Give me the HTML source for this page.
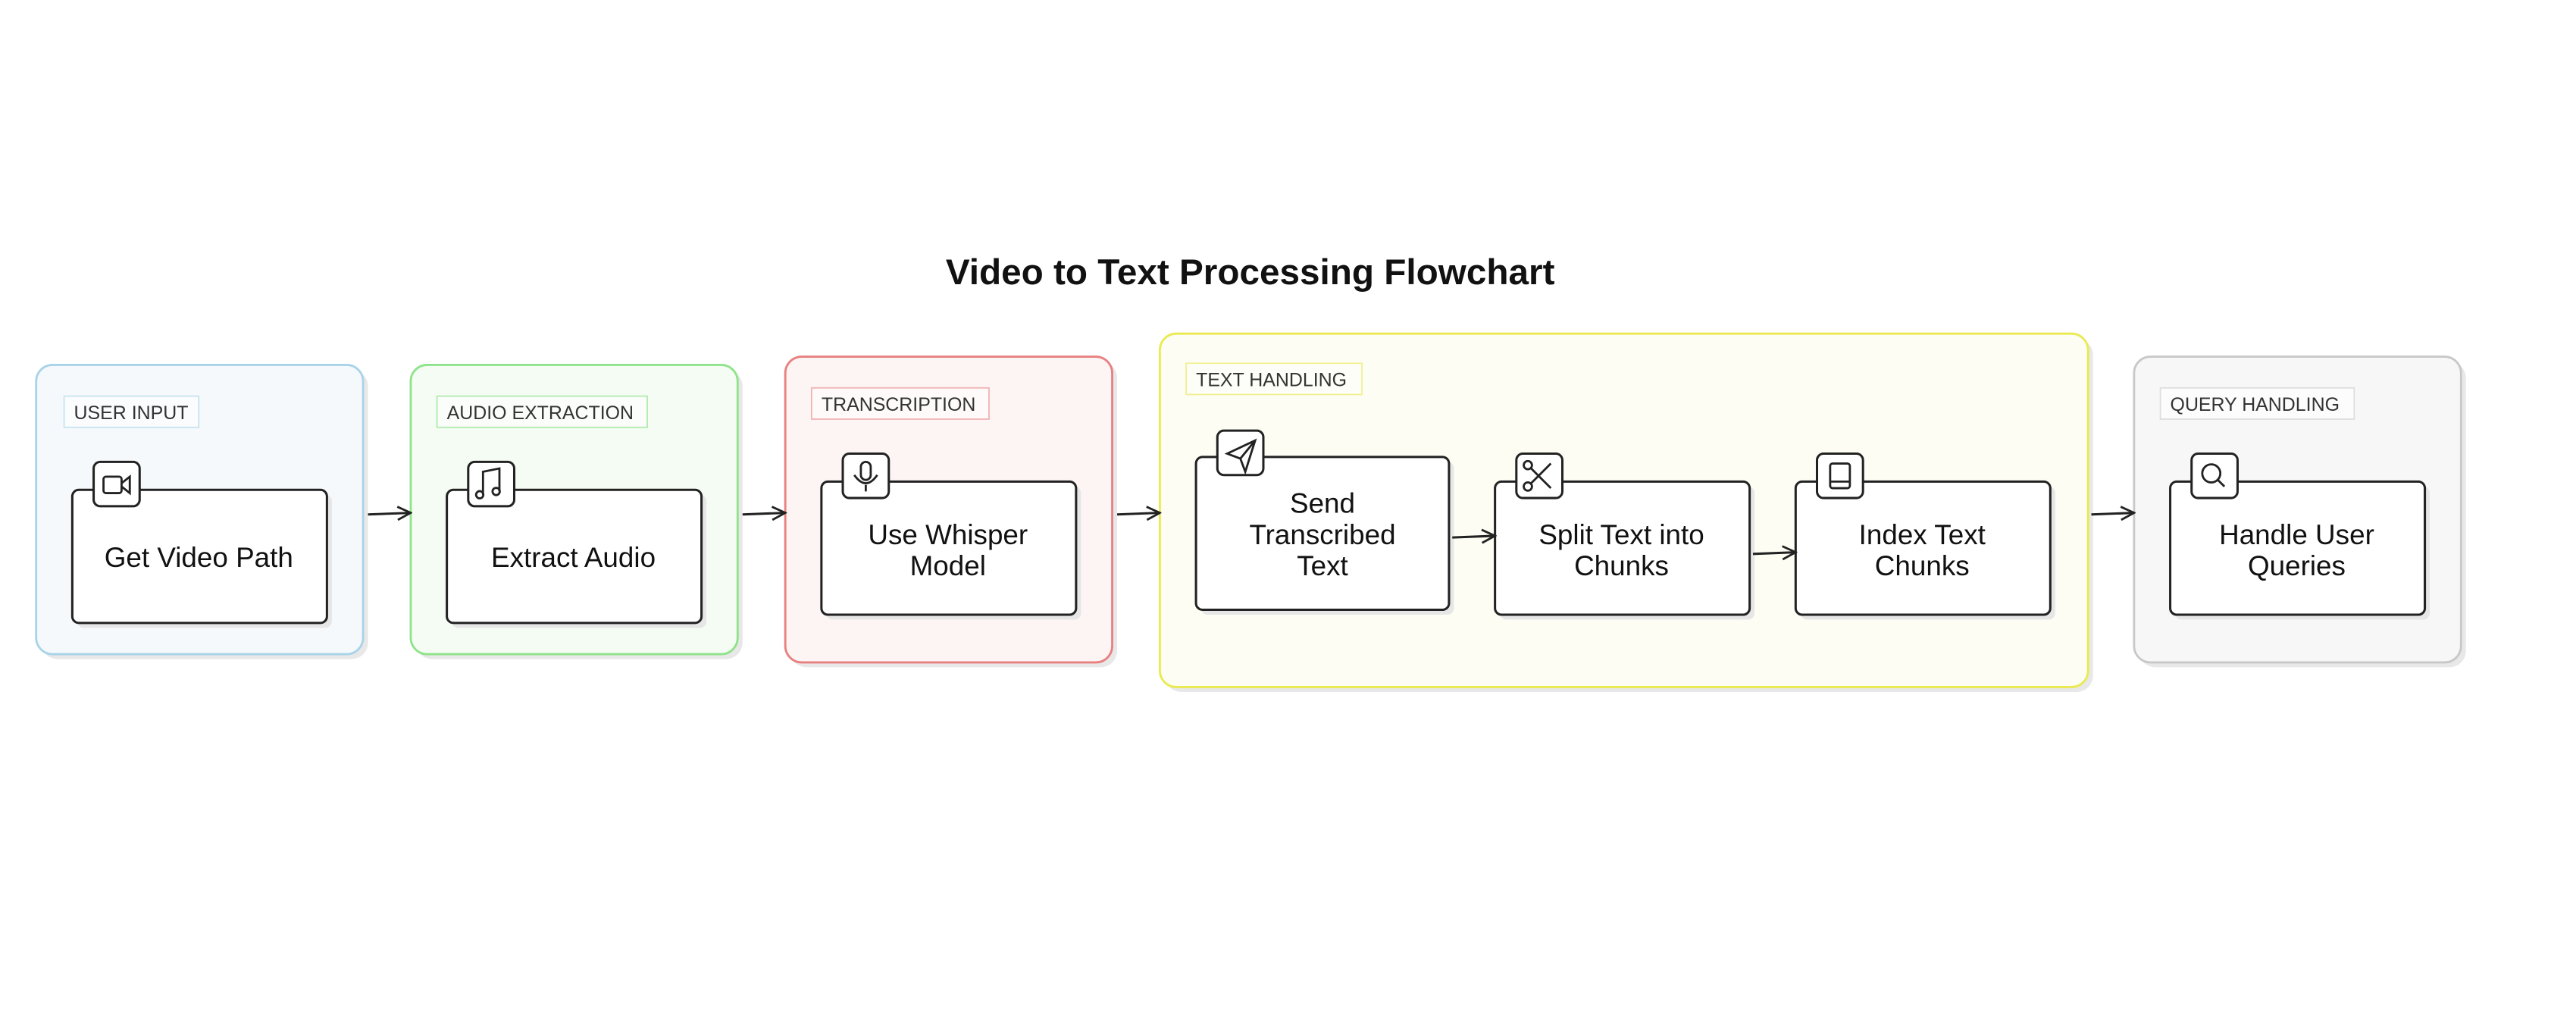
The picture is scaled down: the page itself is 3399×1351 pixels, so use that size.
<!DOCTYPE html>
<html><head><meta charset="utf-8"><style>
html,body{margin:0;padding:0;background:#fff;}
svg{display:block;}
text{font-family:"Liberation Sans",sans-serif;}
</style></head><body>
<svg width="3399" height="1351" viewBox="0 0 1568 623" preserveAspectRatio="none" xmlns="http://www.w3.org/2000/svg">
<defs>
<marker id="ah" markerWidth="10" markerHeight="10" refX="9" refY="5" orient="auto" markerUnits="userSpaceOnUse">
<path d="M1,1 L9,5 L1,9" fill="none" stroke="#222" stroke-width="1.3"/>
</marker>
</defs>
<rect width="1568" height="623" fill="#fff"/>
<text x="761" y="173" text-anchor="middle" font-size="22" font-weight="bold" fill="#111">Video to Text Processing Flowchart</text>

<!-- containers -->
<g stroke-width="1.3">
<rect x="25" y="225" width="199" height="176" rx="10" fill="#e8e8e8" stroke="none"/>
<rect x="22" y="222" width="199" height="176" rx="10" fill="#f5f9fc" stroke="#a9d3e8"/>
<rect x="253" y="225" width="199" height="176" rx="10" fill="#e8e8e8" stroke="none"/>
<rect x="250" y="222" width="199" height="176" rx="10" fill="#f4fcf3" stroke="#8fe38a"/>
<rect x="481" y="220" width="199" height="186" rx="10" fill="#e8e8e8" stroke="none"/>
<rect x="478" y="217" width="199" height="186" rx="10" fill="#fdf4f4" stroke="#e88080"/>
<rect x="709" y="206" width="565" height="215" rx="10" fill="#e8e8e8" stroke="none"/>
<rect x="706" y="203" width="565" height="215" rx="10" fill="#fdfdf4" stroke="#eaea50"/>
<rect x="1302" y="220" width="199" height="186" rx="10" fill="#e8e8e8" stroke="none"/>
<rect x="1299" y="217" width="199" height="186" rx="10" fill="#f7f7f7" stroke="#c8c8c8"/>
</g>

<!-- labels -->
<g font-size="11.5" fill="#333">
<rect x="39" y="241" width="82" height="19" fill="#fafcfd" stroke="#c5e3f0" stroke-width="0.8"/>
<text x="45" y="255">USER INPUT</text>
<rect x="266" y="241" width="128" height="19" fill="#fafdfa" stroke="#aeeaaa" stroke-width="0.8"/>
<text x="272" y="255">AUDIO EXTRACTION</text>
<rect x="494" y="236" width="108" height="19" fill="#fefafa" stroke="#f0b0b0" stroke-width="0.8"/>
<text x="500" y="250">TRANSCRIPTION</text>
<rect x="722" y="221" width="107" height="19" fill="#fefef8" stroke="#f0f090" stroke-width="0.8"/>
<text x="728" y="235">TEXT HANDLING</text>
<rect x="1315" y="236" width="118" height="19" fill="#fcfcfc" stroke="#ddd" stroke-width="0.8"/>
<text x="1321" y="250">QUERY HANDLING</text>
</g>

<!-- nodes -->
<g stroke="#222" stroke-width="1.4">
<g fill="#e6e6e6" stroke="none">
<rect x="47" y="301" width="155" height="81" rx="4"/>
<rect x="275" y="301" width="155" height="81" rx="4"/>
<rect x="503" y="296" width="155" height="81" rx="4"/>
<rect x="731" y="281" width="154" height="93" rx="4"/>
<rect x="913" y="296" width="155" height="81" rx="4"/>
<rect x="1096" y="296" width="155" height="81" rx="4"/>
<rect x="1324" y="296" width="155" height="81" rx="4"/>
</g>
<g fill="#fff">
<rect x="44" y="298" width="155" height="81" rx="4"/>
<rect x="272" y="298" width="155" height="81" rx="4"/>
<rect x="500" y="293" width="155" height="81" rx="4"/>
<rect x="728" y="278" width="154" height="93" rx="4"/>
<rect x="910" y="293" width="155" height="81" rx="4"/>
<rect x="1093" y="293" width="155" height="81" rx="4"/>
<rect x="1321" y="293" width="155" height="81" rx="4"/>
<!-- icon boxes -->
<rect x="57" y="281" width="28" height="27" rx="4"/>
<rect x="285" y="281" width="28" height="27" rx="4"/>
<rect x="513" y="276" width="28" height="27" rx="4"/>
<rect x="741" y="262" width="28" height="27" rx="4"/>
<rect x="923" y="276" width="28" height="27" rx="4"/>
<rect x="1106" y="276" width="28" height="27" rx="4"/>
<rect x="1334" y="276" width="28" height="27" rx="4"/>
</g>
<!-- icons -->
<g fill="none" stroke-width="1.3">
<rect x="63" y="290" width="11" height="10" rx="1.5"/><path d="M74,294 L79,290 L79,300 L74,296"/>
<path d="M294,301 L294,287 L304,285 L304,299"/><circle cx="292" cy="301" r="2.2"/><circle cx="302" cy="299" r="2.2"/>
<rect x="524" y="281" width="6" height="11" rx="3"/><path d="M520,289 Q527,299 534,289 M527,295 L527,299"/>
<path d="M764,268 L747,276 L755,279 L758,287 Z M755,279 L764,268"/>
<circle cx="930" cy="283" r="2.5"/><circle cx="930" cy="296" r="2.5"/><path d="M932,294 L944,282 M932,285 L944,297"/>
<rect x="1114" y="282" width="12" height="15" rx="1.5"/><path d="M1114,293 L1126,293"/>
<circle cx="1346" cy="288" r="5.5"/><path d="M1350,292 L1354,296"/>
</g>
</g>

<g font-size="17" fill="#111" text-anchor="middle">
<text x="121" y="345">Get Video Path</text>
<text x="349" y="345">Extract Audio</text>
<text x="577" y="331">Use Whisper</text><text x="577" y="350">Model</text>
<text x="805" y="312">Send</text><text x="805" y="331">Transcribed</text><text x="805" y="350">Text</text>
<text x="987" y="331">Split Text into</text><text x="987" y="350">Chunks</text>
<text x="1170" y="331">Index Text</text><text x="1170" y="350">Chunks</text>
<text x="1398" y="331">Handle User</text><text x="1398" y="350">Queries</text>
</g>

<!-- arrows -->
<g stroke="#222" stroke-width="1.4" fill="none" marker-end="url(#ah)">
<path d="M224,313 L250,312"/>
<path d="M452,313 L478,312"/>
<path d="M680,313 L706,312"/>
<path d="M884,327 L910,326"/>
<path d="M1067,337 L1093,336"/>
<path d="M1273,313 L1299,312"/>
</g>
</svg>
</body></html>
